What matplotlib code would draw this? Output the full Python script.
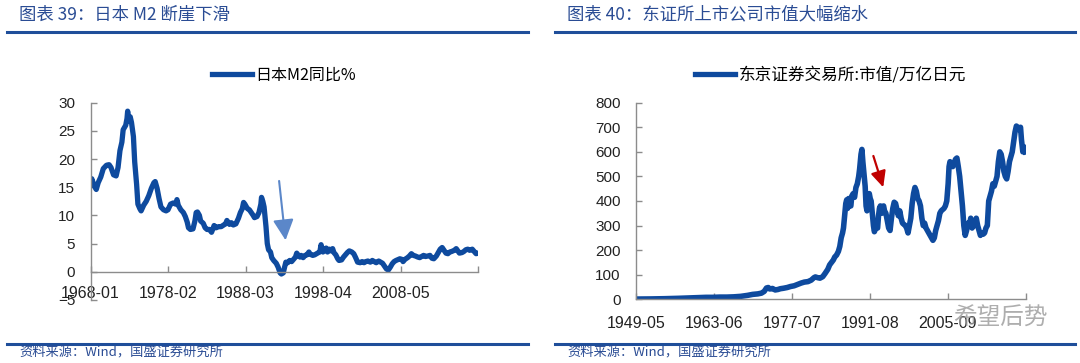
import matplotlib
matplotlib.use("Agg")
import matplotlib.pyplot as plt

# ---------------- data ----------------
# Left: Japan M2 YoY %, x = months since 1968-01
m2_month = [0, 2, 4, 7, 9, 12, 16, 20, 25, 29, 32, 36, 40, 43, 46, 49, 51, 55, 57, 58,
            60, 62, 64, 67, 69, 72, 74, 77, 79, 83, 87, 91, 95, 99, 101, 104, 107, 110, 114, 118,
            121, 125, 129, 133, 135, 137, 141, 145, 148, 151, 153, 156, 160, 163, 165, 167, 170, 172, 176, 179,
            182, 186, 189, 191, 193, 196, 200, 204, 208, 211, 213, 217, 220, 223, 227, 231, 234, 237, 239, 241,
            245, 248, 251, 254, 256, 260, 263, 266, 267, 269, 271, 274, 276, 278, 281, 283, 286, 290, 293, 296,
            298, 301, 303, 305, 308, 311, 314, 317, 320, 322, 324, 327, 329, 332, 335, 338, 341, 343, 347, 350,
            353, 356, 358, 360, 363, 365, 368, 370, 373, 375, 378, 380, 383, 386, 388, 392, 395, 398, 401, 404,
            408, 411, 414, 417, 421, 424, 427, 430, 433, 437, 440, 443, 446, 450, 453, 456, 459, 462, 465, 468,
            471, 474, 477, 481, 483, 486, 488, 491, 495, 498, 501, 504, 507, 511, 514, 517, 520, 523, 527, 530,
            533, 536, 540, 543, 546, 549, 552, 555, 558, 561, 564, 568, 571, 574, 576, 580, 583, 586, 589, 592,
            596, 599, 602, 605]
m2_yoy = [15.5, 16.5, 15.8, 15.0, 14.6, 15.8, 16.8, 18.3, 18.9, 19.0, 18.5, 17.2, 17.0, 18.5, 21.5, 23.0, 25.2, 26.0, 27.2, 28.5,
          26.8, 27.5, 26.5, 24.0, 19.5, 15.5, 12.0, 11.2, 10.8, 11.8, 12.5, 13.5, 14.8, 15.8, 16.0, 14.8, 13.0, 11.5, 11.0, 10.8,
          11.0, 12.0, 12.2, 12.0, 12.8, 11.8, 11.0, 10.5, 9.8, 8.8, 7.8, 7.5, 7.6, 9.0, 10.5, 10.6, 10.0, 9.0, 8.6, 7.8,
          7.5, 7.5, 7.0, 7.6, 8.2, 7.8, 8.0, 8.0, 8.3, 8.5, 9.1, 8.4, 8.7, 8.3, 8.5, 9.5, 10.5, 11.2, 12.3, 12.0,
          11.2, 11.0, 10.5, 10.0, 9.6, 9.8, 10.5, 12.0, 13.2, 12.5, 11.5, 8.0, 5.0, 3.9, 3.5, 2.5, 2.0, 1.5, 0.8, -0.2,
          -0.4, -0.2, 0.8, 1.7, 1.6, 2.0, 1.8, 2.2, 2.6, 3.3, 3.0, 2.6, 2.9, 2.5, 2.9, 3.0, 3.5, 3.1, 2.9, 3.0,
          3.2, 3.4, 3.5, 4.8, 3.5, 3.8, 4.2, 3.5, 4.0, 3.7, 4.1, 3.4, 3.0, 2.3, 2.0, 2.1, 2.6, 3.0, 3.4, 3.7,
          3.5, 3.2, 2.5, 1.7, 1.6, 1.8, 1.6, 1.8, 1.9, 1.7, 2.0, 1.8, 1.6, 1.9, 1.7, 1.5, 1.0, 0.5, 0.3, 0.8,
          1.4, 1.8, 2.0, 2.2, 2.3, 2.2, 1.8, 2.2, 2.5, 2.8, 3.2, 2.9, 2.8, 2.6, 2.5, 2.7, 2.9, 2.7, 2.8, 2.9,
          2.4, 2.3, 2.8, 3.4, 4.0, 4.3, 3.8, 3.3, 3.2, 3.5, 3.6, 3.8, 4.1, 3.6, 3.3, 3.4, 3.6, 3.9, 4.0, 3.8,
          4.0, 3.6, 3.2, 3.3]
m2_tick_month = [0, 121, 242, 363, 484, 605]
m2_tick_label = ["1968-01", "1978-02", "1988-03", "1998-04", "2008-05", ""]

# Right: TSE market cap (trillion yen), x = months since 1949-05
tse_month = [0, 32, 62, 92, 122, 152, 167, 182, 197, 212, 227, 242, 253, 264, 272, 278, 283, 287, 290, 296,
             302, 308, 313, 320, 328, 335, 343, 350, 358, 365, 373, 380, 386, 389, 394, 399, 405, 410, 416, 420,
             424, 428, 431, 435, 439, 442, 445, 448, 450, 452, 455, 457, 459, 461, 464, 466, 468, 471, 474, 477,
             480, 483, 485, 488, 490, 492, 494, 497, 499, 501, 503, 506, 508, 510, 512, 515, 517, 519, 521, 524,
             526, 528, 530, 533, 535, 537, 539, 542, 545, 548, 551, 554, 557, 560, 563, 566, 569, 572, 575, 578,
             581, 584, 587, 590, 593, 596, 599, 602, 605, 608, 611, 614, 617, 620, 623, 626, 629, 632, 635, 638,
             641, 644, 647, 650, 653, 656, 659, 662, 665, 668, 671, 674, 677, 679, 681, 684, 687, 690, 693, 696,
             699, 702, 705, 708, 711, 714, 717, 720, 723, 726, 729, 732, 735, 738, 741, 744, 747, 750, 753, 756,
             759, 762, 765, 768, 771, 774, 777, 780, 783, 786, 789, 792, 795, 798, 801, 804, 807, 810, 813, 816,
             819, 822, 825, 828, 831, 834, 836, 839, 842, 845]
tse_cap = [1, 1.5, 2.5, 4, 6, 8, 8, 9, 9, 10, 12, 16, 20, 22, 25, 32, 46, 48, 42, 44,
           38, 40, 43, 45, 48, 52, 55, 60, 66, 70, 72, 78, 88, 91, 88, 86, 92, 105, 122, 140,
           150, 160, 172, 180, 195, 215, 250, 270, 290, 330, 390, 405, 370, 410, 385, 380, 420, 430, 415, 455,
           470, 500, 530, 590, 610, 560, 520, 460, 380, 360, 420, 430, 410, 400, 360, 300, 275, 285, 300, 290,
           340, 370, 380, 350, 375, 380, 360, 350, 320, 290, 280, 330, 370, 395, 390, 365, 340, 360, 330, 310,
           305, 300, 290, 270, 300, 330, 390, 430, 455, 440, 410, 400, 380, 330, 300, 310, 290, 280, 270, 260,
           250, 240, 250, 280, 300, 320, 350, 360, 365, 370, 380, 400, 470, 540, 560, 545, 540, 555, 570, 575,
           540, 500, 440, 380, 300, 260, 280, 310, 300, 330, 290, 320, 300, 330, 300, 280, 260, 270, 265, 270,
           290, 300, 400, 420, 440, 470, 460, 480, 500, 560, 600, 590, 560, 520, 500, 490, 520, 560, 580, 600,
           640, 680, 705, 700, 690, 700, 650, 600, 620, 600]
tse_tick_month = [0, 169, 338, 507, 676, 845]
tse_tick_label = ["1949-05", "1963-06", "1977-07", "1991-08", "2005-09", ""]

title_left = "图表 39：日本 M2 断崖下滑"
title_right = "图表 40：东证所上市公司市值大幅缩水"
source_text = "资料来源：Wind，国盛证券研究所"
legend_left = "日本M2同比%"
legend_right = "东京证券交易所:市值/万亿日元"

# ---------------- style ----------------
CJK = ["Noto Sans CJK SC", "DejaVu Sans"]
NUM = ["Liberation Sans", "DejaVu Sans"]
NARROW = ["Liberation Sans Narrow", "Liberation Sans", "DejaVu Sans"]
LINE = "#0E4A9E"
HEAD = "#2A4C94"
RULE = "#1F4E9A"
SPINE = "#8C8C8C"

W, H = 1080, 363
fig = plt.figure(figsize=(W / 100, H / 100), dpi=100)

def fx(px):
    return px / W

def fy(py):
    return 1 - py / H

# header / footer
for x0, x1, t in [(7, 528, title_left), (555, 1075, title_right)]:
    fig.add_artist(plt.Line2D([fx(x0), fx(x1)], [fy(31.5), fy(31.5)], color=RULE, lw=2.2))
    fig.add_artist(plt.Line2D([fx(x0), fx(x1)], [fy(343.5), fy(343.5)], color=RULE, lw=2.2))
    fig.text(fx(x0 + 12), fy(14.5), t, family=CJK, fontsize=12.5, color=HEAD, style="italic",
             va="center", ha="left")
    fig.text(fx(x0 + 12), fy(353), source_text, family=CJK, fontsize=9.5, color=HEAD,
             style="italic", va="center", ha="left")


def style_axes(ax):
    for s in ["top", "right"]:
        ax.spines[s].set_visible(False)
    for s in ["left", "bottom"]:
        ax.spines[s].set_color(SPINE)
        ax.spines[s].set_linewidth(1.0)
    ax.tick_params(axis="both", direction="in", length=4, width=1, color=SPINE)
    ax.tick_params(axis="y", pad=11, labelsize=11, labelcolor="#222222")
    for lab in ax.get_yticklabels():
        lab.set_family(NUM)


# ---------- left chart ----------
axL = fig.add_axes([fx(90.5), fy(299.9), fx(478 - 90.5), (299.9 - 102.7) / H])
axL.plot(m2_month, m2_yoy, color=LINE, lw=3.8, solid_joinstyle="round", label=legend_left)
axL.set_xlim(m2_tick_month[0], m2_tick_month[-1])
axL.set_ylim(-5, 30)
axL.set_yticks(range(-5, 31, 5))
axL.spines["bottom"].set_position(("data", 0))
axL.set_xticks(m2_tick_month)
axL.set_xticklabels(m2_tick_label)
style_axes(axL)
axL.tick_params(axis="x", pad=10, labelsize=11.5, labelcolor="#222222")
for lab in axL.get_xticklabels():
    lab.set_family(NARROW)
leg = axL.legend(loc="center", bbox_to_anchor=(0.5, 1.14), frameon=False,
                 prop={"family": CJK, "size": 11.5}, handlelength=2.5, handletextpad=0.2)
for l in leg.get_lines():
    l.set_linewidth(3.8)
axL.annotate("", xy=(305, 5.1), xytext=(294, 16.6),
             arrowprops=dict(arrowstyle="-|>,head_length=0.9,head_width=0.45",
                             color="#5B87C9", lw=1.5, mutation_scale=14))

# ---------- right chart ----------
axR = fig.add_axes([fx(636), fy(299.3), fx(1025.6 - 636), (299.3 - 102.7) / H])
axR.plot(tse_month, tse_cap, color=LINE, lw=4.0, solid_joinstyle="round", label=legend_right)
axR.set_xlim(tse_tick_month[0], tse_tick_month[-1])
axR.set_ylim(0, 800)
axR.set_yticks(range(0, 801, 100))
axR.set_xticks(tse_tick_month)
axR.set_xticklabels(tse_tick_label)
style_axes(axR)
axR.tick_params(axis="x", pad=12, labelsize=11.5, labelcolor="#222222")
for lab in axR.get_xticklabels():
    lab.set_family(NARROW)
leg = axR.legend(loc="center", bbox_to_anchor=(0.5, 1.14), frameon=False,
                 prop={"family": CJK, "size": 12}, handlelength=2.4, handletextpad=0.2)
for l in leg.get_lines():
    l.set_linewidth(3.8)
axR.annotate("", xy=(538, 445), xytext=(513, 594),
             arrowprops=dict(arrowstyle="-|>,head_length=0.8,head_width=0.38",
                             color="#C00000", lw=1.6, mutation_scale=12))

# watermark
fig.text(fx(1000), fy(318), "希望后势", family=CJK, fontsize=17, color="#9A9A9A",
         alpha=0.8, ha="center", va="center")

fig.savefig("out.png", dpi=100)
